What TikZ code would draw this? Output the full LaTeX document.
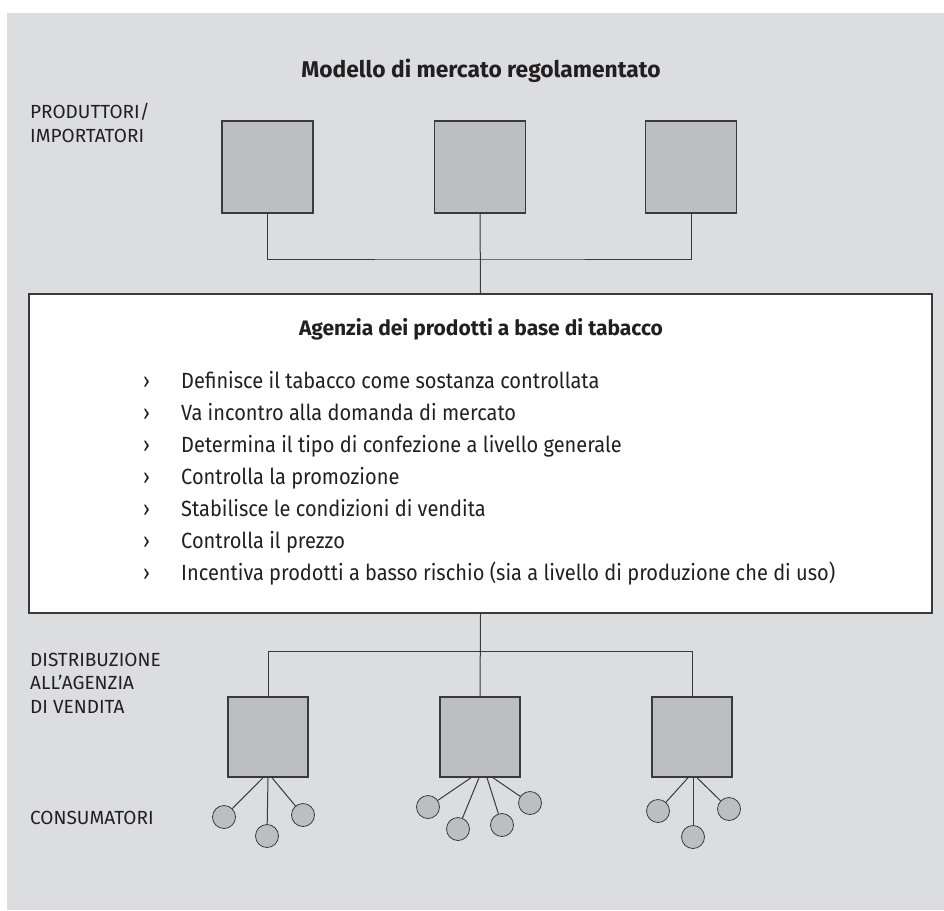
\documentclass[tikz,border=0pt]{standalone}
\usepackage{fontspec}
\setmainfont{Fira Sans}
\newfontfamily\narrowfont[FakeStretch=0.91]{Fira Sans}
\usetikzlibrary{positioning}
\definecolor{panel-fill}{HTML}{DCDDDF}
\definecolor{box-fill}{HTML}{BDBEC1}
\definecolor{box-border}{HTML}{3A3A3C}
\definecolor{label-color}{HTML}{231F20}
\tikzset{
  market-box/.style={
    draw=box-border, fill=box-fill, line width=1.5pt,
    minimum width=91pt, minimum height=92pt, inner sep=0pt
  },
  outlet-box/.style={market-box, minimum width=80pt, minimum height=80pt},
  consumer-dot/.style={
    circle, draw=box-border, fill=box-fill, line width=0.8pt,
    minimum size=23pt, inner sep=0pt
  },
  agency-box/.style={
    draw=box-border, fill=white, line width=1.3pt,
    minimum width=903pt, minimum height=319pt, inner sep=0pt
  },
  link/.style={draw=box-border, line width=1pt},
  row-label/.style={
    anchor=base west, align=left, inner sep=0pt, text=label-color,
    font=\fontsize{19}{23.5}\selectfont
  },
  heading/.style={anchor=base, inner sep=0pt, text=label-color},
  point-text/.style={
    anchor=base west, inner sep=0pt, text=label-color,
    font=\narrowfont\fontsize{22}{24}\selectfont
  }
}

\begin{document}
\begin{tikzpicture}[x=1pt, y=-1pt]
  \useasboundingbox (0,0) rectangle (944,910);
  \fill[panel-fill] (7,13) rectangle (944,910);

  \node[heading, font=\bfseries\fontsize{22.8}{26}\selectfont] (title) at (481,77) {Modello di mercato regolamentato};

  % producers / importers
  \node[row-label] (producers-label) at (30,142) {PRODUTTORI/\\IMPORTATORI};
  \node[market-box] (prod-1) at (267.5,167) {};
  \node[market-box] (prod-2) at (480,167) {};
  \node[market-box] (prod-3) at (691,167) {};

  \node[agency-box] (agency) at (480.5,453.5) {};
  \node[heading, font=\bfseries\fontsize{21}{24}\selectfont] (agency-title) at (481,335) {Agenzia dei prodotti a base di tabacco};
  \foreach \point [count=\i] in {
      Definisce il tabacco come sostanza controllata,
      Va incontro alla domanda di mercato,
      Determina il tipo di confezione a livello generale,
      Controlla la promozione,
      Stabilisce le condizioni di vendita,
      Controlla il prezzo,
      Incentiva prodotti a basso rischio (sia a livello di produzione che di uso)} {
    \node[point-text] (mark-\i) at (143,356+32*\i) {›};
    \node[point-text] (point-\i) at (181,356+32*\i) {\point};
  }

  \coordinate (prod-join) at (480,259);
  \draw[link] (prod-1.south) |- (prod-join) -| (prod-3.south);
  \draw[link] (prod-2.south) -- (agency.north);

  % distribution to the sales agency
  \node[row-label] (outlet-label) at (30,713) {DISTRIBUZIONE\\ALL’AGENZIA\\DI VENDITA};
  \node[row-label] (consumer-label) at (30,824) {CONSUMATORI};
  \node[outlet-box] (outlet-1) at (268,737) {};
  \node[outlet-box] (outlet-2) at (480,737) {};
  \node[outlet-box] (outlet-3) at (692,737) {};

  \coordinate (outlet-join) at (480,651);
  \draw[link] (outlet-1.north) |- (outlet-join) -| (outlet-3.north);
  \draw[link] (agency.south) -- (outlet-2.north);

  % consumers
  \node[consumer-dot] (cons-1-1) at (224,817) {};
  \node[consumer-dot] (cons-1-2) at (267,836) {};
  \node[consumer-dot] (cons-1-3) at (303,815) {};
  \node[consumer-dot] (cons-2-1) at (428,807) {};
  \node[consumer-dot] (cons-2-2) at (458,829) {};
  \node[consumer-dot] (cons-2-3) at (502,825) {};
  \node[consumer-dot] (cons-2-4) at (530,803) {};
  \node[consumer-dot] (cons-3-1) at (658,811) {};
  \node[consumer-dot] (cons-3-2) at (693,837) {};
  \node[consumer-dot] (cons-3-3) at (729,809) {};

  \draw[link] ([xshift=-5pt]outlet-1.south) -- (cons-1-1);
  \draw[link] (outlet-1.south) -- (cons-1-2);
  \draw[link] ([xshift=4pt]outlet-1.south) -- (cons-1-3);
  \draw[link] ([xshift=-9pt]outlet-2.south) -- (cons-2-1);
  \draw[link] ([xshift=-1pt]outlet-2.south) -- (cons-2-2);
  \draw[link] ([xshift=7pt]outlet-2.south) -- (cons-2-3);
  \draw[link] ([xshift=13pt]outlet-2.south) -- (cons-2-4);
  \draw[link] ([xshift=-4pt]outlet-3.south) -- (cons-3-1);
  \draw[link] ([xshift=1pt]outlet-3.south) -- (cons-3-2);
  \draw[link] ([xshift=5pt]outlet-3.south) -- (cons-3-3);
\end{tikzpicture}
\end{document}
